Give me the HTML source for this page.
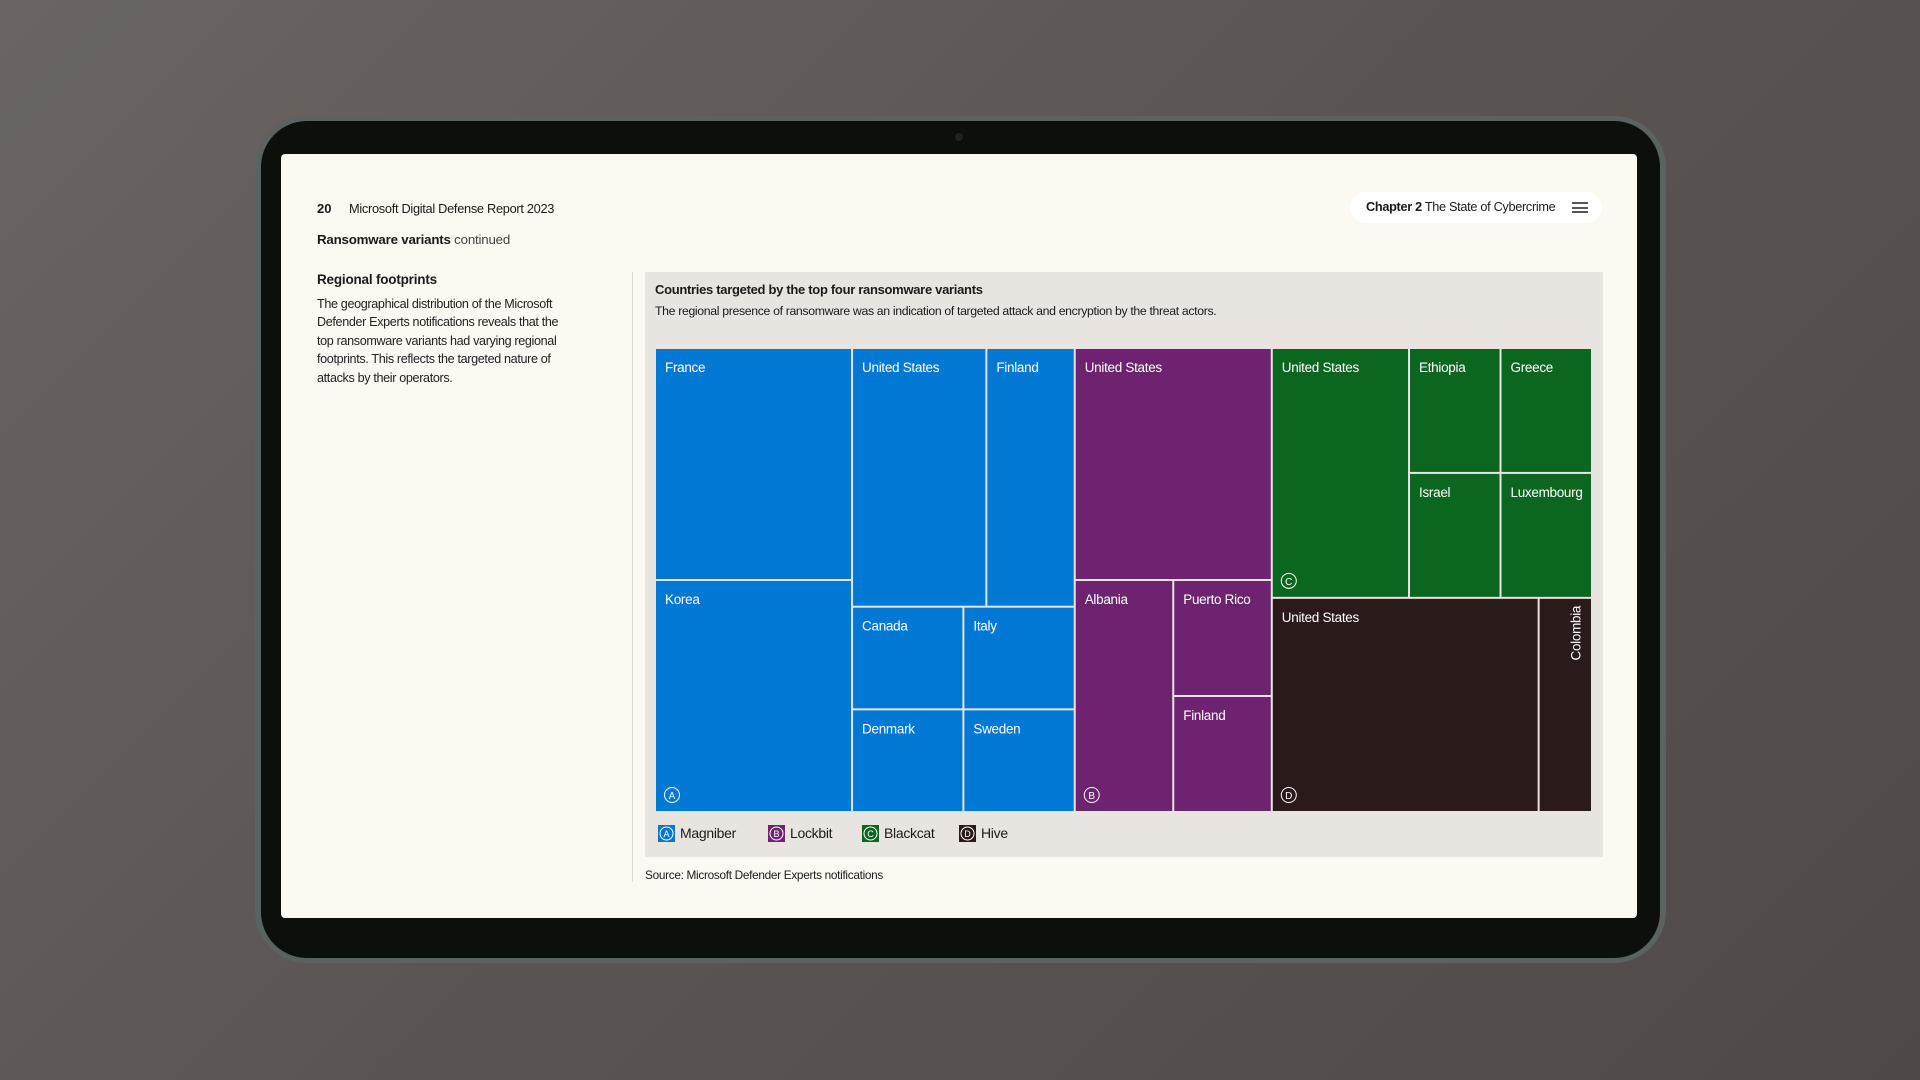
<!DOCTYPE html>
<html><head><meta charset="utf-8"><style>
html,body{margin:0;padding:0;}
body{width:1920px;height:1080px;overflow:hidden;position:relative;background:linear-gradient(135deg,#6a6563 0%,#5a5452 50%,#4f4947 100%);font-family:"Liberation Sans",sans-serif;}
.abs{position:absolute;}
#rim{left:255px;top:116px;width:1411px;height:847px;border-radius:52px;background:#5b6262;}
#bezel{left:261px;top:121px;width:1399px;height:837px;border-radius:46px;background:#0c0f0c;}
#screen{left:281px;top:154px;width:1356px;height:764px;border-radius:4px;background:#fcf8f2;}
.t{position:absolute;white-space:nowrap;color:#1b1b1b;font-size:13px;}
</style></head><body>
<div class="abs" id="rim"></div>
<div class="abs" id="bezel"></div>
<div class="abs" style="left:955px;top:133px;width:8px;height:8px;border-radius:4px;background:#1e2322;"></div>
<div class="abs" id="screen"></div>

<div class="t" style="left:317px;top:201px;font-weight:bold;font-size:13px;">20</div>
<div class="t" style="left:349px;top:201px;font-size:12.8px;letter-spacing:-0.3px;">Microsoft Digital Defense Report 2023</div>
<div class="t" style="left:317px;top:232px;font-size:13.3px;letter-spacing:-0.2px;"><b>Ransomware variants</b> <span style="color:#444">continued</span></div>
<div class="t" style="left:317px;top:272px;font-weight:bold;font-size:13.5px;letter-spacing:-0.2px;">Regional footprints</div>
<div class="t" style="left:317px;top:295px;font-size:12.6px;line-height:18.4px;letter-spacing:-0.35px;white-space:normal;width:290px;color:#222;">The geographical distribution of the Microsoft<br>Defender Experts notifications reveals that the<br>top ransomware variants had varying regional<br>footprints. This reflects the targeted nature of<br>attacks by their operators.</div>
<div class="abs" style="left:632px;top:272px;width:1px;height:610px;background:#ddd8d1;"></div>

<div class="abs" style="left:1350px;top:192px;width:252px;height:31px;border-radius:16px;background:#fff;"></div>
<div class="t" style="left:1366px;top:200px;font-size:12.7px;letter-spacing:-0.3px;"><b>Chapter 2</b> The State of Cybercrime</div>
<div class="abs" style="left:1572px;top:202px;width:16px;height:11px;border-top:2px solid #555;border-bottom:2px solid #555;box-sizing:border-box;"><div style="margin-top:2.5px;height:2px;background:#555;"></div></div>

<div class="abs" style="left:645px;top:272px;width:958px;height:585px;background:#e8e5e0;"></div>
<div class="t" style="left:655px;top:282px;font-weight:bold;font-size:13px;letter-spacing:-0.3px;">Countries targeted by the top four ransomware variants</div>
<div class="t" style="left:655px;top:304px;font-size:12.3px;letter-spacing:-0.35px;">The regional presence of ransomware was an indication of targeted attack and encryption by the threat actors.</div>
<div class="t" style="left:645px;top:868px;font-size:11.8px;letter-spacing:-0.3px;">Source: Microsoft Defender Experts notifications</div>

<svg class="abs" id="tm" style="left:0;top:0;" width="1920" height="1080"></svg>

<script>
// Treemap data (leaf values read from relative areas)
const variantNames = ["Magniber","Lockbit","Blackcat","Hive"];
const variantLetters = ["A","B","C","D"];
const variantColors = ["#0078d4","#6e2370","#0b671f","#2a1a1a"];
const magniberCountries = ["France","Korea","United States","Finland","Canada","Italy","Denmark","Sweden"];
const magniberValues = [100,100,76,50,25,25,25,25];
const lockbitCountries = ["United States","Albania","Puerto Rico","Finland"];
const lockbitValues = [100,50,25,25];
const blackcatCountries = ["United States","Ethiopia","Greece","Israel","Luxembourg"];
const blackcatValues = [75,25,25,25,25];
const hiveCountries = ["United States","Colombia"];
const hiveValues = [125,25];

const BOX={x:655,y:348,w:937,h:464};
function leaf(names,vals,i,g){return {name:names[i],value:vals[i],g:g};}
function node(dir,children){return {dir:dir,children:children};}
const M=(i)=>leaf(magniberCountries,magniberValues,i,0);
const L=(i)=>leaf(lockbitCountries,lockbitValues,i,1);
const B=(i)=>leaf(blackcatCountries,blackcatValues,i,2);
const H=(i)=>leaf(hiveCountries,hiveValues,i,3);
const tree=node("h",[
  node("h",[ node("v",[M(0),M(1)]), node("v",[ node("h",[M(2),M(3)]), node("v",[ node("h",[M(4),M(5)]), node("h",[M(6),M(7)]) ]) ]) ]),
  node("v",[ L(0), node("h",[ L(1), node("v",[L(2),L(3)]) ]) ]),
  node("v",[ node("h",[ B(0), node("v",[ node("h",[B(1),B(2)]), node("h",[B(3),B(4)]) ]) ]), node("h",[H(0),H(1)]) ])
]);
function total(n){return n.children?n.children.reduce((s,c)=>s+total(c),0):n.value;}
const svg=document.getElementById('tm');
const NS="http://www.w3.org/2000/svg";
const leaves=[];
function layout(n,x,y,w,h){
  if(!n.children){leaves.push({n:n,x:x,y:y,w:w,h:h});return;}
  const T=total(n);let off=0;
  n.children.forEach(c=>{const f=total(c)/T;
    if(n.dir==="h"){layout(c,x+off,y,w*f,h);off+=w*f;}
    else{layout(c,x,y+off,w,h*f);off+=h*f;}});
}
layout(tree,BOX.x,BOX.y,BOX.w,BOX.h);
leaves.forEach(L=>{
  const r=document.createElementNS(NS,'rect');
  r.setAttribute('x',L.x+1);r.setAttribute('y',L.y+1);
  r.setAttribute('width',Math.max(0,L.w-2));r.setAttribute('height',Math.max(0,L.h-2));
  r.setAttribute('fill',variantColors[L.n.g]);
  
  
  svg.appendChild(r);
  const t=document.createElementNS(NS,'text');
  t.textContent=L.n.name;t.setAttribute('fill','#fff');t.setAttribute('font-size','13.5');
  t.setAttribute('font-family','Liberation Sans, sans-serif');t.setAttribute('letter-spacing','-0.3');
  if(L.w<70){
    const cx=L.x+L.w/2+15,cy=L.y+8;
    t.setAttribute('transform','translate('+cx+','+cy+') rotate(-90)');
    t.setAttribute('text-anchor','end');
  } else {t.setAttribute('x',L.x+10);t.setAttribute('y',L.y+24);}
  
  
  svg.appendChild(t);
});
// badges at bottom-left leaf of each variant group
variantNames.forEach((nm,g)=>{
  const gl=leaves.filter(l=>l.n.g===g);
  let best=gl[0];
  gl.forEach(l=>{if(l.x<best.x-0.5||(Math.abs(l.x-best.x)<0.5&&l.y+l.h>best.y+best.h))best=l;});
  const c=document.createElementNS(NS,'circle');
  c.setAttribute('cx',best.x+17);c.setAttribute('cy',best.y+best.h-17);c.setAttribute('r',7.5);
  c.setAttribute('fill','none');c.setAttribute('stroke','#fff');c.setAttribute('stroke-width','1');
  
  
  svg.appendChild(c);
  const bt=document.createElementNS(NS,'text');
  bt.textContent=variantLetters[g];bt.setAttribute('x',best.x+17);bt.setAttribute('y',best.y+best.h-13);
  bt.setAttribute('fill','#fff');bt.setAttribute('font-size','10');bt.setAttribute('text-anchor','middle');
  bt.setAttribute('font-family','Liberation Sans, sans-serif');
  
  
  svg.appendChild(bt);
});
// legend
const legendX=[658,768,862,959];
variantNames.forEach((nm,i)=>{
  const g=document.createElementNS(NS,'g');
  
  
  const r=document.createElementNS(NS,'rect');
  r.setAttribute('x',legendX[i]);r.setAttribute('y',825);r.setAttribute('width',17);r.setAttribute('height',17);
  r.setAttribute('fill',variantColors[i]);g.appendChild(r);
  const c=document.createElementNS(NS,'circle');
  c.setAttribute('cx',legendX[i]+8.5);c.setAttribute('cy',833.5);c.setAttribute('r',6.5);
  c.setAttribute('fill','none');c.setAttribute('stroke','#fff');g.appendChild(c);
  const l=document.createElementNS(NS,'text');l.textContent=variantLetters[i];
  l.setAttribute('x',legendX[i]+8.5);l.setAttribute('y',837);l.setAttribute('font-size','9');l.setAttribute('fill','#fff');
  l.setAttribute('text-anchor','middle');l.setAttribute('font-family','Liberation Sans, sans-serif');g.appendChild(l);
  const t=document.createElementNS(NS,'text');t.textContent=nm;
  t.setAttribute('x',legendX[i]+22);t.setAttribute('y',838);t.setAttribute('font-size','14');t.setAttribute('fill','#1b1b1b');
  t.setAttribute('letter-spacing','-0.3');t.setAttribute('font-family','Liberation Sans, sans-serif');g.appendChild(t);
  svg.appendChild(g);
});
</script>
</body></html>
